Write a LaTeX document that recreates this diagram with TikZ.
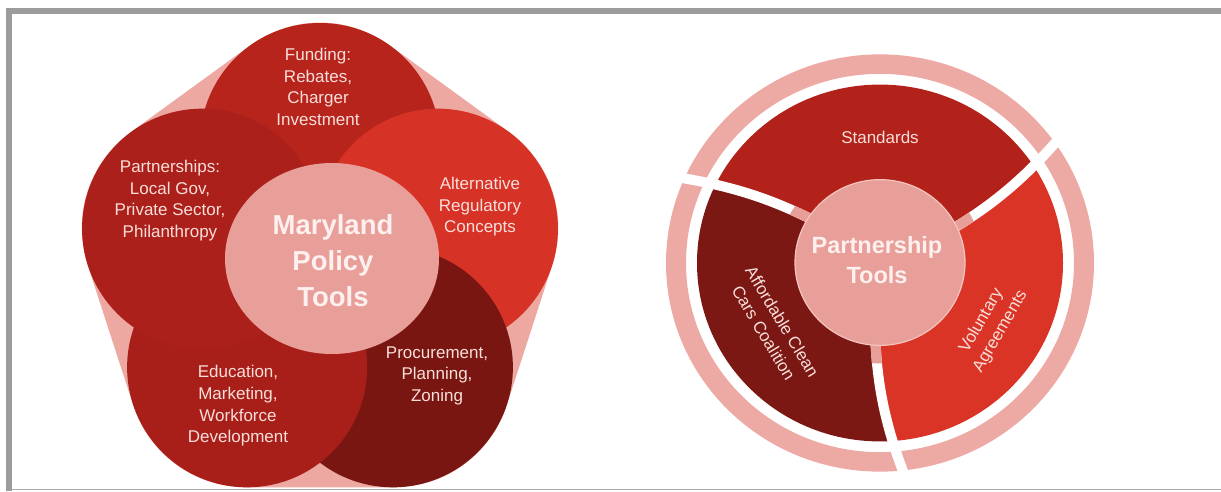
\documentclass[tikz,border=0pt]{standalone}
\usepackage{fontspec}
\setmainfont{Liberation Sans}
\usetikzlibrary{calc}

\definecolor{framegray}{RGB}{156,156,156}
\definecolor{hullpink}{RGB}{236,168,161}
\definecolor{midpink}{RGB}{232,159,153}
\definecolor{rimpink}{RGB}{244,196,190}
\definecolor{fundred}{RGB}{182,36,28}
\definecolor{partred}{RGB}{171,32,26}
\definecolor{altred}{RGB}{215,50,38}
\definecolor{procred}{RGB}{122,22,18}
\definecolor{edured}{RGB}{168,31,25}
\definecolor{txtpink}{RGB}{249,222,218}
\definecolor{hdrpink}{RGB}{253,240,238}
\definecolor{stdred}{RGB}{178,33,26}
\definecolor{volred}{RGB}{218,52,38}
\definecolor{accred}{RGB}{124,24,20}
\definecolor{ringpink}{RGB}{237,170,164}

% swirl of one gap and of one wedge between two gaps
\newcommand{\gappath}[1]{(#1:60) .. controls ({#1+3}:125) and ({#1+7}:170) .. ({#1+12}:228)}
\newcommand{\wedgepath}[2]{(0,0) -- (#1:60) .. controls ({#1+3}:125) and ({#1+7}:170) .. ({#1+12}:228)
  arc[start angle={#1+12}, end angle={#2+12}, radius=228]
  .. controls ({#2+7}:170) and ({#2+3}:125) .. (#2:60) -- cycle}

\begin{document}
\begin{tikzpicture}[x=1pt, y=1pt, line join=round,
  txt/.style={text=txtpink, align=center, font=\fontsize{17}{21.7}\selectfont},
  hdr/.style={text=hdrpink, align=center, font=\bfseries\fontsize{27.5}{36}\selectfont}]

\useasboundingbox (0,0) rectangle (1221,491);

% frame
\fill[framegray] (6,0) rectangle (12,483);
\fill[framegray] (6,477) rectangle (1221,483);
\draw[framegray!85, line width=1.2] (12,1.8) -- (1221,1.8);

% policy tools
\begin{scope}[shift={(320,224)}]
\coordinate (F) at (90:124);
\coordinate (A) at (18:124);
\coordinate (R) at (-54:124);
\coordinate (E) at (-126:124);
\coordinate (P) at (162:124);
\filldraw[hullpink, line width=240] (F) -- (A) -- (R) -- (E) -- (P) -- cycle; %backdrop
\fill[fundred] (F) circle[radius=120];
\fill[altred] (A) circle[radius=120];
\fill[procred] (R) circle[radius=120];
\fill[edured] (E) circle[radius=120];
\fill[partred] (P) circle[radius=120];
\fill[midpink] (12,8.5) ellipse[x radius=107, y radius=95.5];

\node[txt] (funding) at (-2,180) {Funding:\\Rebates,\\Charger\\Investment};
\node[txt] (partners) at (-150,66.5) {Partnerships:\\Local Gov,\\Private Sector,\\Philanthropy};
\node[txt] (altreg) at (160,60.3) {Alternative\\Regulatory\\Concepts};
\node[txt] (procure) at (117,-108.7) {Procurement,\\Planning,\\Zoning};
\node[txt] (educ) at (-82,-138.8) {Education,\\Marketing,\\Workforce\\Development};
\node[hdr] (policy) at (13,6) {Maryland\\Policy\\Tools};
\end{scope}

% partnership tools
\begin{scope}[shift={(880,228)}, yscale=.975]
\fill[ringpink, even odd rule] (0,0) circle[radius=214] circle[radius=194]; %outer ring
\begin{scope}
\clip (0,0) circle[radius=183];
\fill[stdred] \wedgepath{24}{145};
\fill[accred] \wedgepath{145}{265};
\fill[volred] \wedgepath{265}{384};
\end{scope}
\foreach \a in {24,145,265}
  \draw[white, line width=10] \gappath{\a};
\begin{scope}
\clip (0,0) circle[radius=103];
\foreach \a in {24,145,265}
  \draw[midpink, line width=10] \gappath{\a};
\end{scope}
\filldraw[fill=midpink, draw=rimpink, line width=1.2] (0,0.5) circle[radius=85];

\node[txt] (standards) at (0,129) {Standards};
\node[txt, rotate=-59] (accc) at (-107,-66) {Affordable Clean\\Cars Coalition};
\node[txt, rotate=60] (volagr) at (111,-65) {Voluntary\\Agreements};
\node[hdr, font=\bfseries\fontsize{23.5}{30}\selectfont] (ptools) at (-3,3) {Partnership\\Tools};
\end{scope}

\end{tikzpicture}
\end{document}
